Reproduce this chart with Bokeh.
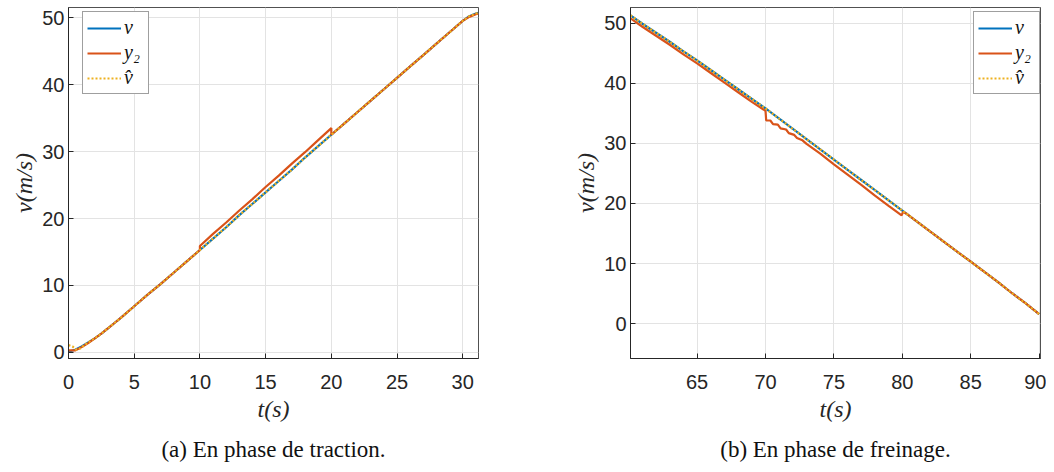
from bokeh.plotting import figure
from bokeh.models import Legend, LegendItem, FixedTicker, Range1d, Title
from bokeh.layouts import row
from bokeh.embed import file_html
from bokeh.resources import INLINE

# ---------------- data: (a) traction phase ----------------
t_v_a = [0, 0.5, 1, 1.5, 2, 2.5, 3, 3.5, 4, 5, 6, 7, 8, 9, 10, 11, 12, 13, 14, 15,
         16, 17, 18, 19, 20, 21, 22, 23, 24, 25, 26, 27, 28, 29, 30, 30.5, 31, 31.2]
v_a = [0.1, 0.4, 0.9, 1.5, 2.1, 2.8, 3.6, 4.4, 5.2, 6.9, 8.6, 10.2, 11.9, 13.6, 15.3, 17.0, 18.7, 20.5, 22.2, 23.9,
       25.6, 27.3, 29.1, 30.8, 32.5, 34.2, 35.9, 37.6, 39.3, 41.0, 42.7, 44.4, 46.1, 47.8, 49.5, 50.2, 50.6, 50.7]

t_y2_a = [0, 0.5, 1, 1.5, 2, 2.5, 3, 3.5, 4, 5, 6, 7, 8, 9, 10, 10, 11, 12, 13, 14, 15,
          16, 17, 18, 19, 20, 20, 21, 22, 23, 24, 25, 26, 27, 28, 29, 30, 30.5, 31, 31.2]
y2_a = [0.3, 0.3, 0.8, 1.4, 2.1, 2.8, 3.6, 4.4, 5.2, 6.9, 8.6, 10.2, 11.9, 13.6, 15.3, 15.9, 17.7, 19.4, 21.2, 22.9, 24.7,
        26.4, 28.2, 29.9, 31.7, 33.5, 32.5, 34.2, 35.9, 37.6, 39.3, 41.0, 42.7, 44.4, 46.1, 47.8, 49.5, 50.1, 50.5, 50.6]

t_vh_a = [0, 0.3, 0.6, 0.9, 1.2, 1.5, 2, 2.5, 3, 3.5, 4, 5, 6, 7, 8, 9, 10, 11, 12, 13, 14, 15,
          16, 17, 18, 19, 20, 21, 22, 23, 24, 25, 26, 27, 28, 29, 30, 30.5, 31, 31.2]
vh_a = [1.1, 0.9, 0.4, 0.6, 1.1, 1.5, 2.1, 2.8, 3.6, 4.4, 5.2, 6.9, 8.6, 10.2, 11.9, 13.6, 15.3, 17.0, 18.7, 20.5, 22.2, 23.9,
        25.6, 27.3, 29.1, 30.8, 32.5, 34.2, 35.9, 37.6, 39.3, 41.0, 42.7, 44.4, 46.1, 47.8, 49.5, 50.2, 50.6, 50.7]

# ---------------- data: (b) braking phase ----------------
t_v_b = [60.13, 61, 62, 63, 64, 65, 66, 67, 68, 69, 70, 71, 72, 73, 74, 75, 76, 77, 78, 79,
         80, 81, 82, 83, 84, 85, 86, 87, 88, 89, 90]
v_b = [51.3, 49.9, 48.4, 46.9, 45.3, 43.8, 42.2, 40.6, 39.0, 37.4, 35.8, 34.1, 32.4, 30.7, 29.0, 27.3, 25.6, 23.9, 22.2, 20.5,
       18.8, 17.1, 15.4, 13.7, 12.0, 10.3, 8.6, 6.9, 5.1, 3.4, 1.6]

t_y2_b = [60.13, 61, 62, 63, 64, 65, 66, 67, 68, 69, 70, 70.05, 70.35, 70.55, 70.9, 71.1, 71.5, 71.7, 72.1, 72.3, 72.7,
          73.0, 74, 75, 76, 77, 78, 79, 79.95, 80.05, 80.3, 81, 82, 83, 84, 85, 86, 87, 88, 89, 90]
y2_b = [50.8, 49.4, 47.9, 46.4, 44.8, 43.3, 41.7, 40.1, 38.5, 36.9, 35.4, 33.8, 33.8, 33.2, 33.1, 32.5, 32.3, 31.7, 31.4, 30.9, 30.5,
        29.9, 28.3, 26.5, 24.8, 23.1, 21.3, 19.6, 18.0, 18.6, 18.3, 17.1, 15.4, 13.7, 12.0, 10.3, 8.6, 6.9, 5.1, 3.4, 1.6]

t_vh_b = t_v_b
vh_b = v_b

x_ticks_a = [0, 5, 10, 15, 20, 25, 30]
x_ticks_b = [65, 70, 75, 80, 85, 90]
y_ticks = [0, 10, 20, 30, 40, 50]

labels = ["v", "y\u2082", "v\u0302"]
colors = ["#0072BD", "#D95319", "#EDB120"]
captions = ["(a) En phase de traction.", "(b) En phase de freinage."]

AX = "#262626"
TICK_FONT = "Liberation Sans"
SERIF = "Liberation Serif"


def make_panel(xr, yr, xt, series, caption, border_left, border_right, legend_xy):
    p = figure(width=border_left + 410 + border_right, height=471,
               x_range=Range1d(*xr), y_range=Range1d(*yr),
               output_backend="svg", toolbar_location=None,
               min_border_left=border_left, min_border_right=border_right,
               min_border_top=7, min_border_bottom=112)
    p.outline_line_color = AX
    p.outline_line_alpha = 0.8
    p.background_fill_color = "white"
    p.border_fill_color = "white"

    for ax, ticks in ((p.xaxis[0], xt), (p.yaxis[0], y_ticks)):
        ax.ticker = FixedTicker(ticks=ticks)
        ax.major_tick_in = 5
        ax.major_tick_out = 0
        ax.minor_tick_in = 0
        ax.minor_tick_out = 0
        ax.axis_line_color = AX
        ax.major_tick_line_color = AX
        ax.major_label_text_color = AX
        ax.major_label_text_font = TICK_FONT
        ax.major_label_text_font_size = "20px"
        ax.axis_label_text_font = SERIF
        ax.axis_label_text_font_style = "italic"
        ax.axis_label_text_font_size = "24px"
        ax.axis_label_text_color = AX
    p.xaxis.axis_label = "t(s)"
    p.yaxis.axis_label = "v(m/s)"
    p.xaxis.major_label_standoff = 16
    p.xaxis.axis_label_standoff = 4
    p.yaxis.major_label_standoff = 4
    p.yaxis.axis_label_standoff = 2

    for g in p.grid:
        g.grid_line_color = "#e3e3e3"
        g.grid_line_width = 1
    p.xgrid.ticker = FixedTicker(ticks=xt)
    p.ygrid.ticker = FixedTicker(ticks=y_ticks)

    items = []
    for (tx, ty), lab, col in zip(series, labels, colors):
        if lab == labels[2]:
            r = p.line(tx, ty, line_color=col, line_width=2.2, line_dash="2 2")
        else:
            r = p.line(tx, ty, line_color=col, line_width=2.2)
        items.append(LegendItem(label=lab, renderers=[r]))

    leg = Legend(items=items, location=legend_xy, margin=0, padding=4, spacing=2,
                 glyph_width=34, glyph_height=22, label_height=22, label_standoff=3,
                 label_text_font=SERIF, label_text_font_style="italic",
                 label_text_font_size="20px", label_text_color="#111111",
                 border_line_color="#404040", border_line_width=1,
                 background_fill_color="white", background_fill_alpha=1)
    p.add_layout(leg)

    p.add_layout(Title(text=caption, align="center", text_font=SERIF, text_font_style="normal",
                       text_font_size="23px", text_color="#111111", standoff=20), "below")
    return p


p1 = make_panel((0, 31.2), (-0.9, 51.5), x_ticks_a,
                [(t_v_a, v_a), (t_y2_a, y2_a), (t_vh_a, vh_a)],
                captions[0], 68, 49, (14, 264))
p2 = make_panel((60.13, 90.1), (-5.8, 52.6), x_ticks_b,
                [(t_v_b, v_b), (t_y2_b, y2_b), (t_vh_b, vh_b)],
                captions[1], 103, 6, (343, 264))

layout = row(p1, p2)
open("out.html", "w").write(file_html(layout, INLINE))
